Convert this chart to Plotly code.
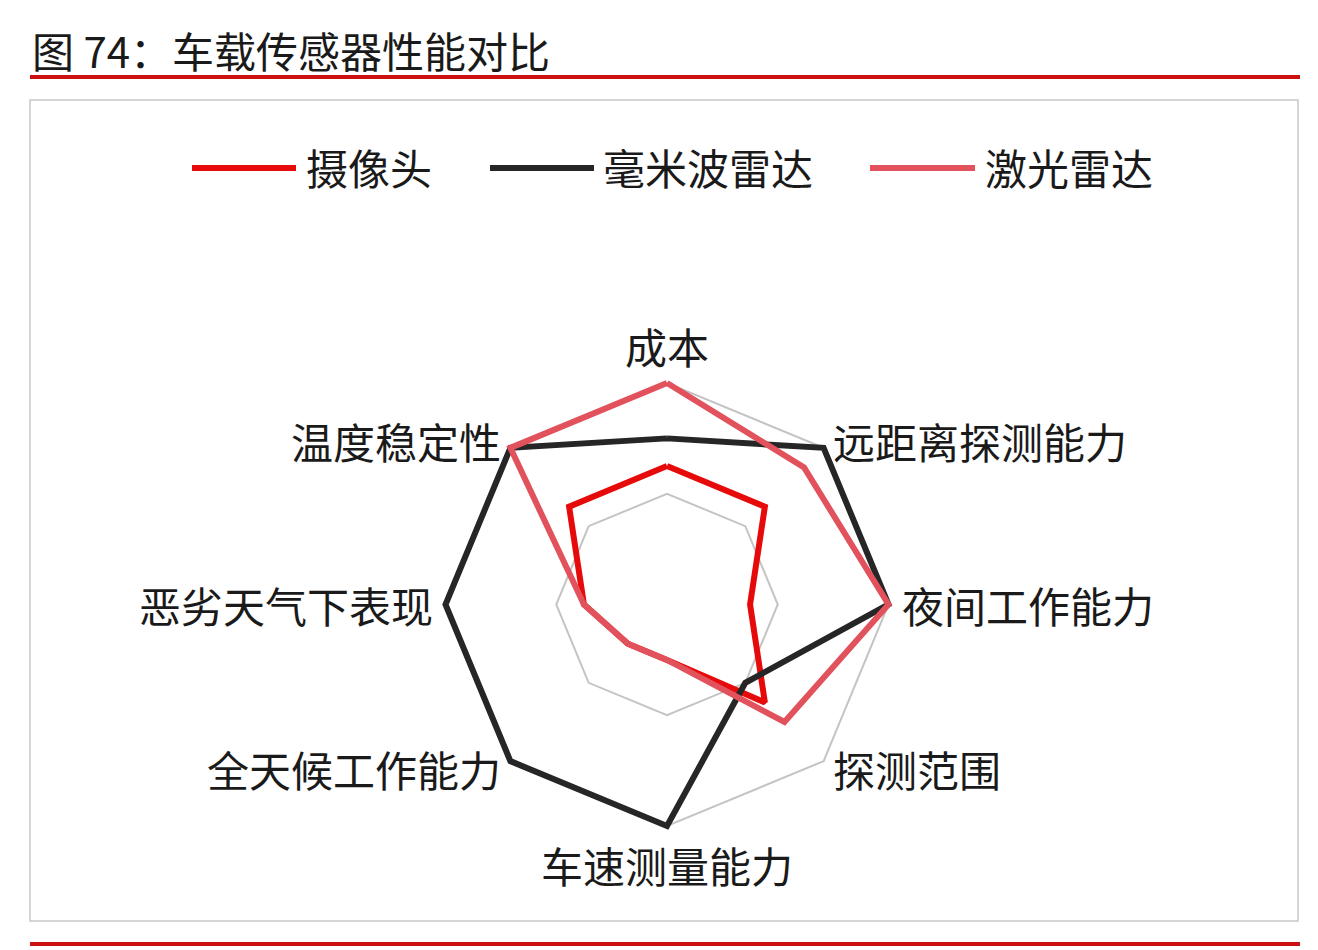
import math
import plotly.graph_objects as go

# ---- data ----
categories = ["成本", "远距离探测能力", "夜间工作能力", "探测范围",
              "车速测量能力", "全天候工作能力", "恶劣天气下表现", "温度稳定性"]
series_names = ["摄像头", "毫米波雷达", "激光雷达"]
camera = [5, 5, 3, 5, 2, 2, 3, 5]
mmwave = [6, 8, 8, 4, 8, 8, 8, 8]
lidar = [8, 7, 8, 6, 2, 2, 3, 8]
r_max = 8
grid_vals = [4, 8]
colors = ["#e60a0a", "#262626", "#e2525c"]

W, H = 1318, 950
FONT = "Noto Sans CJK SC"
TXT = "#1a1a1a"

def px(x):
    return x / W

def py(y):
    return 1 - y / H

fig = go.Figure()
for name, vals, col in zip(series_names, [camera, mmwave, lidar], colors):
    fig.add_trace(go.Scatterpolar(
        r=vals + vals[:1],
        theta=categories + categories[:1],
        mode="lines",
        name=name,
        line=dict(color=col, width=6),
        cliponaxis=False,
        showlegend=False,
        hoverinfo="skip",
    ))

# polar geometry (pixels): centre and radius of value r_max
cx, cy, R = 667, 604.5, 221.5
pad_frac = 1.04          # small headroom so lines at r_max are not clipped
Rd = R * pad_frac
fig.update_layout(
    width=W, height=H,
    margin=dict(l=0, r=0, t=0, b=0),
    paper_bgcolor="white",
    plot_bgcolor="white",
    font=dict(family=FONT, size=42, color=TXT),
    polar=dict(
        domain=dict(x=[px(cx - Rd), px(cx + Rd)], y=[py(cy + Rd), py(cy - Rd)]),
        bgcolor="rgba(0,0,0,0)",
        gridshape="linear",
        radialaxis=dict(range=[0, r_max * pad_frac], tickvals=grid_vals, showticklabels=False,
                        ticks="", showline=False, gridcolor="#c4c4c4", gridwidth=1.5,
                        layer="below traces"),
        angularaxis=dict(direction="clockwise", rotation=90, showgrid=False,
                         showline=False, ticks="", showticklabels=False,
                         layer="below traces"),
    ),
)

shapes = []
# title underline and bottom rule
shapes.append(dict(type="line", xref="paper", yref="paper", x0=px(30), x1=px(1300),
                   y0=py(77), y1=py(77), line=dict(color="#cc1010", width=4)))
shapes.append(dict(type="line", xref="paper", yref="paper", x0=px(30), x1=px(1300),
                   y0=py(944), y1=py(944), line=dict(color="#cc1010", width=4)))
# frame
shapes.append(dict(type="rect", xref="paper", yref="paper", x0=px(30), x1=px(1298),
                   y0=py(921), y1=py(100), line=dict(color="#c8c8c8", width=1.5)))

annotations = [dict(text="图 74：车载传感器性能对比", xref="paper", yref="paper",
                    x=px(30), y=py(50), xanchor="left", yanchor="middle",
                    showarrow=False, font=dict(size=42, family=FONT, color=TXT))]

# category labels placed around the polar frame
n = len(categories)
for i, cat in enumerate(categories):
    ang = math.radians(90 - 360 * i / n)
    dx, dy = math.cos(ang), math.sin(ang)
    vx, vy = cx + R * dx, cy - R * dy
    if abs(dx) < 1e-6:
        lx, ly, xa = vx, vy - 38 * dy, "center"
    else:
        lx, ly = vx + 11 * dx, vy - 11 * dy
        xa = "left" if dx > 0 else "right"
    annotations.append(dict(text=cat, xref="paper", yref="paper", x=px(lx), y=py(ly),
                            xanchor=xa, yanchor="middle", showarrow=False,
                            font=dict(size=42, family=FONT, color=TXT)))

# manual legend
leg_y = 168
leg_line_x = [(192, 296), (490, 594), (870, 975)]
leg_text_x = [304, 601, 983]
for name, col, (x0, x1), tx in zip(series_names, colors, leg_line_x, leg_text_x):
    shapes.append(dict(type="line", xref="paper", yref="paper", x0=px(x0), x1=px(x1),
                       y0=py(leg_y), y1=py(leg_y), line=dict(color=col, width=6)))
    annotations.append(dict(text=name, xref="paper", yref="paper", x=px(tx), y=py(leg_y - 2),
                            xanchor="left", yanchor="middle", showarrow=False,
                            font=dict(size=42, family=FONT, color=TXT)))

fig.update_layout(shapes=shapes, annotations=annotations)
fig.write_html("out.html", config={"displayModeBar": False},
               post_script="document.body.style.margin='0';document.body.style.overflow='hidden';")
